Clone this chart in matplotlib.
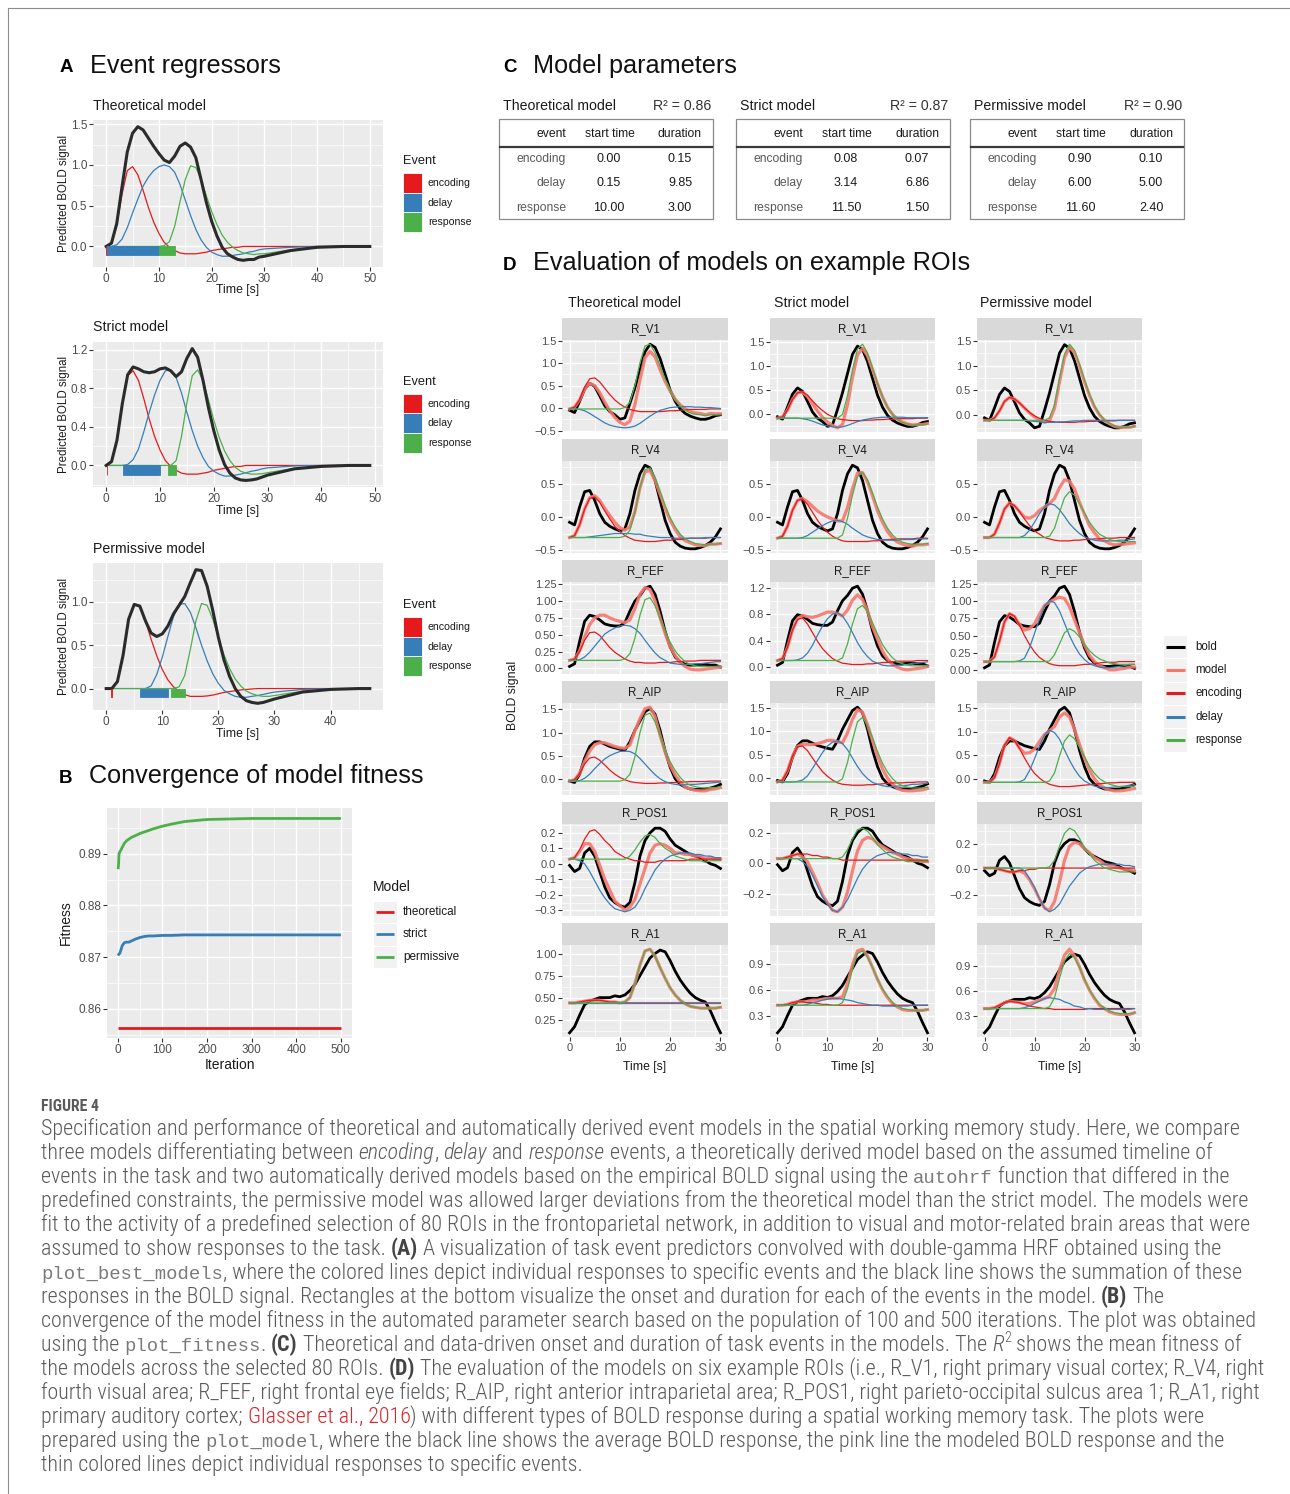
import matplotlib
matplotlib.use('Agg')
import matplotlib.pyplot as plt
from matplotlib import font_manager
from matplotlib.patches import Rectangle

plt.rcParams['font.family'] = ['Liberation Sans', 'DejaVu Sans']

W, H = 1290, 1494

# ---------------------------------------------------------------- event models (panel C, bars in panel A)
event_names = ['encoding', 'delay', 'response']
event_colors = ['#E41A1C', '#377EB8', '#4DAF4A']
model_names = ['Theoretical model', 'Strict model', 'Permissive model']
model_r2 = [0.86, 0.87, 0.90]
start_time = [[0.00, 0.15, 10.00], [0.08, 3.14, 11.50], [0.90, 6.00, 11.60]]
duration = [[0.15, 9.85, 3.00], [0.07, 6.86, 1.50], [0.10, 5.00, 2.40]]

# ---------------------------------------------------------------- panel A: predicted BOLD signal
time_theo = [0, 1, 2, 3, 4, 5, 6, 7, 8, 9, 10, 11, 12, 13, 14, 15, 16, 17, 18, 19, 20,
             21, 22, 23, 24, 25, 26, 27, 28, 29, 30, 35, 40, 45, 50]
time_strict = [0, 1, 2, 3, 4, 5, 6, 7, 8, 9, 10, 11, 12, 13, 14, 15, 16, 17, 18, 19, 20,
               21, 22, 23, 24, 25, 26, 27, 28, 29, 30, 35, 40, 45, 49]
time_perm = [0, 1, 2, 3, 4, 5, 6, 7, 8, 9, 10, 11, 12, 13, 14, 15, 16, 17, 18, 19, 20,
             21, 22, 23, 24, 25, 26, 27, 28, 29, 30, 35, 40, 45, 47]

theo_enc = [0, .04, .26, .64, .93, .98, .88, .69, .48, .30, .16, .05, -.01, -.05, -.08, -.09, -.09, -.09,
            -.08, -.07, -.05, -.04, -.03, -.02, -.01, -.01, 0, 0, 0, 0, 0, 0, 0, 0, 0]
theo_delay = [0, 0, .02, .09, .23, .41, .58, .74, .85, .93, .98, 1.0, .98, .91, .76, .57, .38, .21,
              .08, -.01, -.07, -.10, -.12, -.12, -.11, -.10, -.09, -.07, -.06, -.04, -.03, -.01, 0, 0, 0]
theo_resp = [0, 0, 0, 0, 0, 0, 0, 0, 0, 0, 0, .01, .06, .25, .55, .82, .99, .97, .82, .62, .43, .27,
             .14, .05, -.01, -.05, -.08, -.09, -.10, -.09, -.09, -.04, -.01, 0, 0]
theo_bold = [0, .04, .28, .73, 1.16, 1.39, 1.47, 1.43, 1.33, 1.23, 1.14, 1.06, 1.03, 1.11, 1.23, 1.27,
             1.22, 1.09, .82, .54, .31, .13, -.01, -.09, -.13, -.16, -.17, -.16, -.16, -.13, -.12,
             -.05, -.01, 0, 0]

strict_enc = [0, .04, .26, .64, .93, .98, .88, .69, .48, .30, .16, .05, -.01, -.05, -.08, -.09, -.09, -.09,
              -.08, -.07, -.05, -.04, -.03, -.02, -.01, -.01, 0, 0, 0, 0, 0, 0, 0, 0, 0]
strict_delay = [0, 0, 0, 0, .01, .06, .17, .35, .55, .73, .88, .98, .99, .91, .75, .55, .36, .20, .08,
                -.01, -.06, -.09, -.11, -.11, -.10, -.09, -.075, -.06, -.05, -.035, -.025, -.005, 0, 0, 0]
strict_resp = [0, 0, 0, 0, 0, 0, 0, 0, 0, 0, 0, 0, 0, .05, .30, .65, .93, .99, .88, .68, .47, .29, .15,
               .05, -.02, -.06, -.08, -.09, -.09, -.085, -.075, -.03, -.01, 0, 0]
strict_bold = [0, .04, .26, .64, .94, 1.02, 1.00, .97, .96, .97, 1.00, 1.01, .98, .92, .97, 1.11, 1.21,
               1.12, .88, .60, .36, .16, .01, -.08, -.13, -.15, -.155, -.15, -.14, -.12, -.10, -.035,
               -.01, 0, 0]

perm_enc = [0, 0, .08, .38, .80, .97, .95, .78, .57, .38, .22, .10, .02, -.03, -.07, -.09, -.09, -.09,
            -.085, -.075, -.06, -.045, -.035, -.025, -.015, -.01, -.005, 0, 0, 0, 0, 0, 0, 0, 0]
perm_delay = [0, 0, 0, 0, 0, 0, 0, 0, .03, .16, .36, .60, .83, .97, .98, .88, .70, .50, .32, .17, .06,
              -.02, -.06, -.09, -.10, -.10, -.09, -.08, -.067, -.053, -.04, -.01, 0, 0, 0]
perm_resp = [0, 0, 0, 0, 0, 0, 0, 0, 0, 0, 0, 0, 0, .02, .15, .45, .78, .98, .96, .80, .59, .39, .23,
             .11, .03, -.03, -.06, -.08, -.09, -.09, -.08, -.03, -.01, 0, 0]
perm_bold = [0, 0, .08, .38, .80, .97, .95, .78, .64, .60, .63, .72, .86, .96, 1.06, 1.22, 1.37, 1.36,
             1.18, .90, .59, .33, .14, 0, -.09, -.14, -.16, -.17, -.16, -.14, -.12, -.04, -.01, 0, 0]

# ---------------------------------------------------------------- panel B: fitness per iteration
fit_iter = [1, 2, 3, 5, 8, 10, 15, 20, 25, 30, 40, 50, 60, 70, 80, 100, 120, 150, 175, 200, 250, 300,
            350, 400, 450, 500]
fit_theoretical = [.8564, .8564, .8564, .8564, .8564, .8564, .8564, .8564, .8564, .8564, .8564, .8564,
                   .8564, .8564, .8564, .8564, .8564, .8564, .8564, .8564, .8564, .8564, .8564, .8564,
                   .8564, .8564]
fit_strict = [.8703, .8705, .8706, .8708, .8716, .8722, .8728, .8729, .8729, .8731, .8735, .8738, .8740,
              .8741, .8741, .8742, .8742, .8743, .8743, .8743, .8743, .8743, .8743, .8743, .8743, .8743]
fit_permissive = [.8870, .8880, .8900, .8904, .8908, .8912, .8920, .8925, .8928, .8931, .8935, .8939,
                  .8942, .8945, .8948, .8953, .8957, .8962, .8964, .8966, .8967, .8968, .8968, .8968,
                  .8968, .8968]
fit_models = ['theoretical', 'strict', 'permissive']

# ---------------------------------------------------------------- panel D: model fits on six ROIs
rois = ['R_V1', 'R_V4', 'R_FEF', 'R_AIP', 'R_POS1', 'R_A1']
roi_time = [0, 1, 2, 3, 4, 5, 6, 7, 8, 9, 10, 11, 12, 13, 14, 15, 16, 17, 18, 19, 20, 21, 22, 23, 24,
            25, 26, 27, 28, 29, 30]

# averaged BOLD response, one row per ROI (same data for every model)
bold = [
    [-.05, -.10, .15, .42, .55, .48, .27, .05, -.08, -.15, -.25, -.22, .10, .45, .85, 1.25, 1.42, 1.35,
     1.10, .75, .40, .15, -.02, -.12, -.18, -.22, -.25, -.25, -.22, -.17, -.15],
    [-.08, -.12, .15, .38, .40, .25, .05, -.08, -.14, -.18, -.21, -.18, .05, .40, .65, .78, .74, .55, .25,
     -.05, -.25, -.38, -.44, -.47, -.48, -.48, -.46, -.43, -.38, -.30, -.18],
    [.03, .07, .40, .70, .79, .77, .72, .66, .64, .63, .63, .68, .85, 1.00, 1.08, 1.19, 1.22, 1.10, .85,
     .55, .32, .17, .10, .06, .05, .05, .06, .06, .05, .05, .02],
    [-.05, -.08, .10, .45, .70, .80, .80, .75, .70, .67, .64, .62, .80, 1.05, 1.25, 1.45, 1.52, 1.40, 1.05,
     .60, .25, 0, -.12, -.18, -.22, -.23, -.23, -.22, -.20, -.17, -.12],
    [-.01, -.05, -.03, .07, .10, .05, -.05, -.15, -.22, -.25, -.27, -.28, -.25, -.12, .05, .15, .20, .23,
     .23, .21, .16, .12, .10, .08, .06, .05, .04, .02, 0, -.01, -.03],
    [.10, .17, .30, .42, .46, .48, .50, .50, .50, .52, .51, .53, .58, .65, .75, .85, .95, 1.00, 1.04, 1.02,
     .92, .80, .70, .62, .55, .50, .47, .45, .35, .22, .10],
]

theo_model = [
    [-.02, .02, .18, .43, .55, .50, .34, .13, -.06, -.21, -.32, -.37, -.29, .08, .63, 1.12, 1.26, 1.14, .85,
     .59, .38, .20, .07, -.02, -.07, -.11, -.12, -.15, -.12, -.13, -.13],
    [-.31, -.28, -.12, .12, .29, .32, .25, .13, .02, -.08, -.16, -.20, -.15, .08, .44, .68, .70, .55, .34,
     .13, -.05, -.19, -.30, -.36, -.39, -.42, -.43, -.43, -.41, -.41, -.40],
    [.12, .14, .26, .47, .65, .75, .79, .79, .75, .72, .70, .68, .72, .89, 1.10, 1.20, 1.17, 1.00, .75, .52,
     .32, .19, .09, .03, -.01, -.02, -.02, -.01, 0, .01, .02],
    [-.05, -.02, .12, .38, .60, .74, .78, .78, .74, .70, .67, .66, .73, 1.04, 1.30, 1.52, 1.55, 1.35, .94,
     .58, .29, .08, -.07, -.18, -.22, -.25, -.26, -.26, -.23, -.22, -.19],
    [.03, .04, .08, .13, .13, .08, -.01, -.10, -.17, -.24, -.27, -.30, -.28, -.23, -.13, -.03, .07, .12,
     .13, .12, .10, .07, .07, .06, .06, .05, .05, .03, .04, .03, .03],
    [.44, .44, .45, .46, .47, .47, .47, .46, .45, .45, .44, .45, .50, .66, .87, 1.03, 1.05, .97, .84, .72,
     .61, .53, .47, .43, .40, .39, .38, .38, .38, .38, .39],
]
theo_encoding = [
    [-.02, .02, .19, .47, .65, .67, .58, .44, .30, .18, .09, .02, -.03, -.06, -.08, -.08, -.08, -.08, -.08,
     -.07, -.06, -.06, -.05, -.04, -.03, -.03, -.03, -.03, -.02, -.02, -.02],
    [-.31, -.28, -.12, .12, .28, .30, .22, .09, -.03, -.14, -.22, -.28, -.32, -.35, -.36, -.37, -.37, -.37,
     -.36, -.35, -.35, -.34, -.34, -.33, -.32, -.32, -.32, -.32, -.31, -.31, -.31],
    [.12, .14, .25, .42, .53, .54, .49, .40, .31, .24, .19, .14, .11, .09, .09, .08, .08, .08, .09, .09,
     .09, .10, .10, .11, .11, .11, .12, .12, .12, .12, .12],
    [-.05, -.02, .11, .32, .45, .47, .40, .30, .19, .10, .03, -.02, -.06, -.08, -.09, -.10, -.10, -.10,
     -.09, -.09, -.08, -.08, -.07, -.07, -.06, -.06, -.06, -.06, -.05, -.05, -.05],
    [.03, .04, .09, .16, .21, .22, .19, .15, .12, .08, .06, .04, .03, .02, .02, .01, .01, .01, .02, .02,
     .02, .02, .02, .02, .03, .03, .03, .03, .03, .03, .03],
    [.44, .44, .45, .46, .47, .47, .47, .46, .45, .45, .44, .44, .44, .44, .44, .44, .44, .44, .44, .44,
     .44, .44, .44, .44, .44, .44, .44, .44, .44, .44, .44],
]
theo_delay_fit = [
    [-.02, -.02, -.03, -.06, -.12, -.19, -.26, -.33, -.38, -.41, -.43, -.44, -.43, -.40, -.34, -.26, -.18,
     -.11, -.05, -.02, .01, .02, .03, .03, .03, .02, .02, .01, .01, 0, -.01],
    [-.31, -.31, -.31, -.31, -.30, -.29, -.28, -.27, -.26, -.25, -.25, -.25, -.25, -.26, -.26, -.28, -.29,
     -.30, -.31, -.31, -.31, -.32, -.32, -.32, -.32, -.32, -.32, -.31, -.31, -.31, -.31],
    [.12, .12, .13, .17, .24, .33, .42, .51, .56, .60, .63, .64, .63, .59, .52, .42, .32, .23, .16, .12,
     .08, .07, .06, .06, .06, .07, .07, .08, .09, .10, .10],
    [-.05, -.05, -.04, .01, .10, .22, .33, .43, .50, .55, .59, .60, .59, .54, .44, .32, .20, .09, 0, -.06,
     -.10, -.12, -.13, -.13, -.12, -.12, -.11, -.10, -.09, -.08, -.07],
    [.03, .03, .02, 0, -.05, -.11, -.17, -.22, -.26, -.29, -.30, -.31, -.30, -.28, -.23, -.16, -.10, -.04,
     0, .03, .05, .06, .07, .07, .07, .06, .06, .05, .05, .04, .04],
    [.44, .44, .44, .44, .44, .44, .44, .44, .44, .44, .44, .44, .44, .44, .44, .44, .44, .44, .44, .44,
     .44, .44, .44, .44, .44, .44, .44, .44, .44, .44, .44],
]
theo_response = [
    [-.02, -.02, -.02, -.02, -.02, -.02, -.02, -.02, -.02, -.02, -.02, .01, .13, .50, 1.01, 1.38, 1.42,
     1.23, .94, .64, .39, .20, .05, -.05, -.11, -.14, -.15, -.17, -.15, -.15, -.14],
    [-.31, -.31, -.31, -.31, -.31, -.31, -.31, -.31, -.31, -.31, -.31, -.29, -.20, .07, .44, .71, .74, .60,
     .39, .17, -.01, -.15, -.26, -.33, -.37, -.40, -.41, -.42, -.41, -.41, -.40],
    [.12, .12, .12, .12, .12, .12, .12, .12, .12, .12, .12, .14, .22, .45, .79, 1.02, 1.05, .93, .74, .55,
     .39, .26, .17, .10, .06, .04, .03, .03, .03, .03, .04],
    [-.05, -.05, -.05, -.05, -.05, -.05, -.05, -.05, -.05, -.05, -.05, -.02, .10, .48, 1.00, 1.38, 1.42,
     1.23, .93, .63, .37, .18, .03, -.08, -.14, -.17, -.19, -.20, -.19, -.19, -.17],
    [.03, .03, .03, .03, .03, .03, .03, .03, .03, .03, .03, .03, .05, .09, .14, .18, .19, .17, .13, .10,
     .08, .05, .04, .03, .02, .02, .02, .01, .02, .02, .02],
    [.44, .44, .44, .44, .44, .44, .44, .44, .44, .44, .44, .45, .50, .66, .87, 1.03, 1.05, .97, .84, .72,
     .61, .53, .47, .43, .40, .39, .38, .38, .38, .38, .39],
]

strict_model = [
    [-.08, -.05, .09, .31, .45, .46, .37, .22, .07, -.06, -.16, -.23, -.28, -.21, .20, .77, 1.24, 1.37,
     1.22, .93, .63, .36, .15, 0, -.10, -.16, -.20, -.22, -.21, -.21, -.19],
    [-.32, -.29, -.14, .10, .25, .28, .23, .16, .09, .04, 0, -.03, -.06, -.06, .14, .43, .66, .67, .53, .32,
     .09, -.08, -.22, -.32, -.38, -.41, -.43, -.44, -.42, -.42, -.41],
    [.10, .13, .30, .56, .73, .78, .76, .75, .77, .80, .83, .83, .81, .77, .86, 1.01, 1.09, 1.02, .85, .61,
     .42, .24, .12, .04, 0, -.03, -.04, -.03, -.02, -.01, .01],
    [-.08, -.04, .16, .47, .68, .73, .72, .72, .74, .77, .81, .81, .78, .76, .97, 1.26, 1.47, 1.41, 1.15,
     .80, .47, .20, 0, -.13, -.22, -.26, -.27, -.27, -.26, -.25, -.22],
    [.03, .03, .04, .05, .06, .04, .01, -.06, -.13, -.21, -.26, -.31, -.32, -.29, -.19, -.05, .08, .15, .17,
     .16, .13, .11, .09, .07, .06, .04, .03, .02, .02, .01, .01],
    [.42, .42, .43, .45, .46, .46, .46, .48, .48, .49, .50, .50, .50, .52, .67, .89, 1.05, 1.07, .99, .86,
     .72, .60, .51, .44, .40, .37, .36, .36, .36, .36, .37],
]
strict_encoding = [
    [-.08, -.05, .09, .31, .45, .47, .40, .28, .17, .08, 0, -.05, -.09, -.11, -.12, -.13, -.13, -.13, -.12,
     -.12, -.11, -.11, -.10, -.10, -.09, -.09, -.09, -.09, -.08, -.08, -.08],
    [-.32, -.29, -.14, .10, .25, .27, .19, .07, -.05, -.15, -.23, -.29, -.33, -.36, -.37, -.37, -.37, -.37,
     -.37, -.36, -.36, -.35, -.34, -.34, -.33, -.33, -.33, -.33, -.32, -.32, -.32],
    [.10, .13, .30, .56, .72, .74, .65, .52, .39, .28, .20, .13, .09, .06, .05, .04, .04, .04, .05, .05,
     .06, .07, .07, .08, .09, .09, .09, .09, .10, .10, .10],
    [-.08, -.04, .16, .47, .67, .69, .59, .43, .28, .14, .04, -.04, -.10, -.13, -.14, -.15, -.15, -.15,
     -.14, -.14, -.13, -.12, -.11, -.10, -.10, -.10, -.09, -.09, -.08, -.08, -.08],
    [.03, .03, .04, .05, .06, .06, .06, .05, .05, .04, .04, .03, .03, .02, .02, .02, .02, .02, .02, .02,
     .02, .02, .02, .02, .02, .02, .02, .02, .02, .02, .02],
    [.42, .42, .43, .45, .46, .46, .45, .45, .44, .43, .43, .42, .42, .42, .42, .42, .42, .42, .42, .42,
     .42, .42, .42, .42, .42, .42, .42, .42, .42, .42, .42],
]
strict_delay_fit = [
    [-.08, -.08, -.08, -.08, -.08, -.09, -.11, -.14, -.18, -.22, -.24, -.26, -.27, -.26, -.23, -.19, -.15,
     -.12, -.10, -.08, -.07, -.06, -.06, -.06, -.06, -.06, -.07, -.07, -.07, -.07, -.07],
    [-.32, -.32, -.32, -.32, -.32, -.31, -.28, -.23, -.18, -.13, -.09, -.06, -.05, -.07, -.11, -.17, -.22,
     -.27, -.30, -.32, -.34, -.34, -.35, -.35, -.35, -.34, -.34, -.34, -.33, -.33, -.33],
    [.10, .10, .10, .10, .11, .14, .21, .33, .48, .62, .73, .80, .82, .77, .66, .52, .37, .25, .16, .09,
     .06, .03, .02, .02, .03, .03, .04, .06, .06, .07, .08],
    [-.08, -.08, -.08, -.08, -.07, -.04, .05, .21, .38, .55, .69, .77, .80, .74, .61, .43, .25, .10, -.01,
     -.09, -.13, -.16, -.18, -.18, -.17, -.16, -.15, -.13, -.13, -.12, -.11],
    [.03, .03, .03, .03, .03, .01, -.02, -.08, -.15, -.22, -.27, -.31, -.32, -.29, -.24, -.17, -.10, -.04,
     0, .03, .05, .06, .07, .07, .07, .06, .06, .05, .05, .04, .04],
    [.42, .42, .42, .42, .42, .42, .43, .45, .46, .48, .49, .50, .50, .49, .48, .47, .45, .44, .43, .42,
     .42, .41, .41, .41, .41, .41, .41, .42, .42, .42, .42],
]
strict_response = [
    [-.08, -.08, -.08, -.08, -.08, -.08, -.08, -.08, -.08, -.08, -.08, -.08, -.08, 0, .39, .93, 1.36, 1.46,
     1.28, .97, .65, .37, .15, 0, -.11, -.17, -.20, -.22, -.22, -.22, -.20],
    [-.32, -.32, -.32, -.32, -.32, -.32, -.32, -.32, -.32, -.32, -.32, -.32, -.32, -.27, -.02, .33, .61,
     .67, .56, .36, .15, -.03, -.17, -.27, -.34, -.38, -.40, -.41, -.41, -.41, -.40],
    [.10, .10, .10, .10, .10, .10, .10, .10, .10, .10, .10, .10, .10, .14, .35, .65, .88, .93, .84, .67,
     .50, .34, .23, .14, .08, .05, .03, .02, .02, .02, .03],
    [-.08, -.08, -.08, -.08, -.08, -.08, -.08, -.08, -.08, -.08, -.08, -.08, -.08, -.01, .34, .82, 1.21,
     1.30, 1.14, .87, .57, .32, .13, -.01, -.11, -.16, -.19, -.21, -.21, -.21, -.19],
    [.03, .03, .03, .03, .03, .03, .03, .03, .03, .03, .03, .03, .03, .04, .09, .16, .22, .23, .21, .17,
     .12, .09, .06, .04, .03, .02, .01, .01, .01, .01, .01],
    [.42, .42, .42, .42, .42, .42, .42, .42, .42, .42, .42, .42, .42, .45, .61, .84, 1.02, 1.05, .98, .86,
     .72, .61, .52, .45, .41, .38, .37, .36, .36, .36, .37],
]

perm_model = [
    [-.10, -.10, -.05, .09, .28, .36, .33, .25, .15, .05, -.03, -.09, -.14, -.11, .14, .67, 1.16, 1.37,
     1.26, .99, .68, .40, .17, .01, -.10, -.17, -.22, -.24, -.24, -.24, -.22],
    [-.31, -.31, -.26, -.09, .12, .21, .17, .08, 0, -.02, .02, .10, .15, .20, .28, .44, .56, .54, .42, .22,
     .04, -.13, -.24, -.33, -.36, -.40, -.42, -.41, -.41, -.40, -.39],
    [.12, .12, .19, .42, .70, .82, .78, .66, .58, .60, .67, .81, .94, .99, 1.03, 1.06, 1.04, .92, .73, .54,
     .36, .21, .12, .06, .03, 0, 0, .01, .02, .04, .04],
    [-.08, -.08, .02, .32, .71, .87, .81, .65, .54, .55, .63, .79, .94, 1.02, 1.11, 1.31, 1.40, 1.31, 1.05,
     .73, .43, .18, -.01, -.13, -.20, -.24, -.26, -.26, -.25, -.23, -.21],
    [.01, .01, .01, 0, -.01, -.02, -.02, -.01, -.03, -.08, -.15, -.23, -.30, -.32, -.25, -.10, .07, .18,
     .21, .20, .16, .13, .09, .07, .04, .03, .02, .01, 0, 0, -.01],
    [.39, .39, .40, .43, .46, .48, .47, .46, .45, .45, .47, .49, .51, .54, .63, .85, 1.03, 1.10, 1.02, .89,
     .73, .61, .51, .43, .39, .35, .33, .32, .32, .32, .34],
]
perm_encoding = [
    [-.10, -.10, -.05, .09, .28, .36, .33, .25, .15, .06, -.01, -.06, -.10, -.12, -.13, -.14, -.14, -.14,
     -.14, -.13, -.13, -.12, -.12, -.11, -.11, -.11, -.11, -.10, -.10, -.10, -.10],
    [-.31, -.31, -.26, -.09, .12, .21, .17, .08, -.03, -.13, -.21, -.26, -.31, -.33, -.35, -.36, -.36, -.36,
     -.35, -.35, -.34, -.34, -.33, -.33, -.32, -.32, -.32, -.31, -.31, -.31, -.31],
    [.12, .12, .19, .42, .70, .82, .78, .65, .50, .37, .26, .18, .13, .09, .07, .06, .06, .06, .06, .07,
     .08, .08, .09, .10, .11, .11, .11, .12, .12, .12, .12],
    [-.08, -.08, .02, .32, .71, .87, .81, .64, .44, .26, .11, .01, -.07, -.12, -.15, -.17, -.17, -.17, -.16,
     -.15, -.14, -.13, -.12, -.11, -.10, -.09, -.09, -.08, -.08, -.08, -.08],
    [.01, .01, .01, 0, -.01, -.02, -.02, -.01, -.01, 0, 0, .01, .01, .01, .01, .01, .01, .01, .01, .01,
     .01, .01, .01, .01, .01, .01, .01, .01, .01, .01, .01],
    [.39, .39, .40, .43, .46, .48, .47, .46, .44, .42, .41, .40, .39, .39, .38, .38, .38, .38, .38, .38,
     .38, .39, .39, .39, .39, .39, .39, .39, .39, .39, .39],
]
perm_delay_fit = [
    [-.10, -.10, -.10, -.10, -.10, -.10, -.10, -.10, -.10, -.11, -.12, -.13, -.14, -.14, -.14, -.13, -.13,
     -.12, -.11, -.11, -.10, -.10, -.10, -.10, -.10, -.10, -.10, -.10, -.10, -.10, -.10],
    [-.31, -.31, -.31, -.31, -.31, -.31, -.31, -.31, -.28, -.20, -.08, .05, .15, .20, .18, .11, .01, -.10,
     -.18, -.25, -.30, -.33, -.35, -.36, -.36, -.36, -.36, -.35, -.35, -.34, -.33],
    [.12, .12, .12, .12, .12, .12, .12, .13, .17, .32, .53, .75, .93, 1.01, .98, .86, .68, .50, .35, .23,
     .15, .09, .06, .04, .03, .03, .04, .05, .06, .08, .08],
    [-.08, -.08, -.08, -.08, -.08, -.08, -.08, -.07, -.02, .17, .42, .70, .93, 1.03, .98, .84, .61, .39,
     .20, .05, -.05, -.11, -.16, -.18, -.19, -.19, -.18, -.17, -.16, -.14, -.13],
    [.01, .01, .01, .01, .01, .01, .01, .01, -.01, -.07, -.14, -.23, -.30, -.33, -.31, -.27, -.20, -.13,
     -.08, -.03, 0, .02, .03, .04, .04, .04, .04, .04, .03, .03, .02],
    [.39, .39, .39, .39, .39, .39, .39, .39, .40, .42, .45, .48, .51, .52, .51, .50, .47, .45, .42, .41,
     .39, .39, .38, .38, .38, .38, .38, .38, .38, .38, .39],
]
perm_response = [
    [-.10, -.10, -.10, -.10, -.10, -.10, -.10, -.10, -.10, -.10, -.10, -.10, -.10, -.05, .21, .74, 1.23,
     1.43, 1.31, 1.03, .71, .42, .19, .02, -.09, -.16, -.21, -.24, -.24, -.24, -.22],
    [-.31, -.31, -.31, -.31, -.31, -.31, -.31, -.31, -.31, -.31, -.31, -.31, -.31, -.29, -.17, .07, .29,
     .38, .33, .20, .06, -.08, -.18, -.26, -.30, -.34, -.36, -.37, -.37, -.37, -.37],
    [.12, .12, .12, .12, .12, .12, .12, .12, .12, .12, .12, .12, .12, .13, .22, .38, .54, .60, .56, .48,
     .37, .28, .21, .16, .13, .10, .09, .08, .08, .08, .08],
    [-.08, -.08, -.08, -.08, -.08, -.08, -.08, -.08, -.08, -.08, -.08, -.08, -.08, -.05, .12, .48, .80, .93,
     .85, .67, .46, .26, .11, 0, -.07, -.12, -.15, -.17, -.17, -.17, -.16],
    [.01, .01, .01, .01, .01, .01, .01, .01, .01, .01, .01, .01, .01, .02, .07, .18, .28, .32, .30, .24,
     .17, .12, .07, .04, .01, 0, -.01, -.02, -.02, -.02, -.02],
    [.39, .39, .39, .39, .39, .39, .39, .39, .39, .39, .39, .39, .39, .41, .52, .75, .96, 1.05, 1.00, .88,
     .74, .61, .52, .44, .40, .36, .34, .33, .33, .33, .34],
]

# y axis breaks of every facet (free scales), per model column
theo_yticks = [[-0.5, 0, 0.5, 1, 1.5], [-0.5, 0, 0.5], [0, .25, .5, .75, 1, 1.25], [0, .5, 1, 1.5],
               [-.3, -.2, -.1, 0, .1, .2], [.25, .5, .75, 1]]
strict_yticks = [[0, .5, 1, 1.5], [-0.5, 0, 0.5], [0, .4, .8, 1.2], [0, .5, 1, 1.5], [-.2, 0, .2],
                 [.3, .6, .9]]
perm_yticks = [[0, .5, 1, 1.5], [-0.5, 0, 0.5], [0, .25, .5, .75, 1, 1.25], [0, .5, 1, 1.5], [-.2, 0, .2],
               [.3, .6, .9]]
theo_digits = [1, 1, 2, 1, 1, 2]
strict_digits = [1, 1, 1, 1, 1, 1]
perm_digits = [1, 1, 2, 1, 1, 1]

# ---------------------------------------------------------------- figure helpers
fig = plt.figure(figsize=(W / 100, H / 100), dpi=100)


def px_axes(x0, y0, x1, y1):
    return fig.add_axes([x0 / W, 1 - y1 / H, (x1 - x0) / W, (y1 - y0) / H])


def expand(lo, hi, frac=0.05):
    pad = (hi - lo) * frac
    return lo - pad, hi + pad


def minor_between(ticks, lo, hi):
    step = ticks[1] - ticks[0]
    marks = [ticks[0] - step / 2] + [v + step / 2 for v in ticks]
    return [m for m in marks if lo <= m <= hi]


def fmt(v, digits):
    s = f'{v:.{digits}f}'
    return s.replace('-', '\u2212')


def gg_axes(rect, xlim, ylim, xticks, yticks, digits, size, show_x=True):
    ax = px_axes(*rect)
    ax.set_xlim(*xlim)
    ax.set_ylim(*ylim)
    ax.set_facecolor('#EBEBEB')
    for s in ax.spines.values():
        s.set_visible(False)
    ax.set_xticks(xticks)
    ax.set_xticklabels([str(int(v)) for v in xticks])
    ax.set_xticks(minor_between(xticks, *xlim), minor=True)
    ax.set_yticks(yticks)
    ax.set_yticklabels([fmt(v, digits) for v in yticks])
    ax.set_yticks(minor_between(yticks, *ylim), minor=True)
    ax.grid(which='major', color='white', lw=1.0)
    ax.grid(which='minor', color='white', lw=0.5)
    ax.set_axisbelow(True)
    ax.tick_params(which='major', length=2.6, width=0.8, color='#333333', labelcolor='#4D4D4D',
                   labelsize=size, pad=1.5)
    ax.tick_params(which='minor', length=0)
    if not show_x:
        ax.tick_params(axis='x', which='major', length=0, labelbottom=False)
    return ax


# ---------------------------------------------------------------- panel A
a_rects = [(93, 120, 383, 267), (93, 342, 383, 487), (93, 563, 383, 710)]
a_time = [time_theo, time_strict, time_perm]
a_curves = [[theo_enc, theo_delay, theo_resp], [strict_enc, strict_delay, strict_resp],
            [perm_enc, perm_delay, perm_resp]]
a_bold = [theo_bold, strict_bold, perm_bold]
a_xticks = [[0, 10, 20, 30, 40, 50], [0, 10, 20, 30, 40, 50], [0, 10, 20, 30, 40]]
a_yticks = [[0, .5, 1, 1.5], [0, .4, .8, 1.2], [0, .5, 1]]

for m in range(3):
    t = a_time[m]
    vals = [v for c in a_curves[m] for v in c] + a_bold[m] + [-0.1]
    ax = gg_axes(a_rects[m], expand(t[0], t[-1]), expand(min(vals), max(vals)),
                 a_xticks[m], a_yticks[m], 1, 8.5)
    for c, col in zip(a_curves[m], event_colors):
        ax.plot(t, c, color=col, lw=0.9, zorder=3)
    ax.plot(t, a_bold[m], color='#2B2B2B', lw=2.2, zorder=4)
    for s, d, col in zip(start_time[m], duration[m], event_colors):
        ax.add_patch(Rectangle((s, -0.1), d, 0.1, facecolor=col, edgecolor=col, lw=0.6, zorder=5))

# ---------------------------------------------------------------- panel B
fit_all = fit_theoretical + fit_strict + fit_permissive
axb = gg_axes((107, 808, 352, 1038), expand(fit_iter[0], fit_iter[-1]), expand(min(fit_all), max(fit_all)),
              [0, 100, 200, 300, 400, 500], [.86, .87, .88, .89], 2, 8.5)
for series, col in zip([fit_theoretical, fit_strict, fit_permissive], event_colors):
    axb.plot(fit_iter, series, color=col, lw=2.0, solid_capstyle='butt')

# ---------------------------------------------------------------- panel D
col_x = [(562, 728), (770, 935), (977, 1142)]
d_models = [
    (theo_model, theo_encoding, theo_delay_fit, theo_response, theo_yticks, theo_digits),
    (strict_model, strict_encoding, strict_delay_fit, strict_response, strict_yticks, strict_digits),
    (perm_model, perm_encoding, perm_delay_fit, perm_response, perm_yticks, perm_digits),
]
MODEL_COLOR = '#F8766D'
strip_tops = []
for c, (mod, enc, dly, rsp, yt, dg) in enumerate(d_models):
    x0, x1 = col_x[c]
    for r in range(6):
        top = 318 + 121 * r
        if c == 0:
            strip_tops.append(top)
        vals = bold[r] + mod[r] + enc[r] + dly[r] + rsp[r]
        ax = gg_axes((x0, top + 22, x1, top + 114), expand(roi_time[0], roi_time[-1]),
                     expand(min(vals), max(vals)), [0, 10, 20, 30], yt[r], dg[r], 8, show_x=(r == 5))
        ax.plot(roi_time, bold[r], color='black', lw=2.0, zorder=3)
        ax.plot(roi_time, mod[r], color=MODEL_COLOR, lw=2.3, alpha=0.9, zorder=4)
        for series, col in zip([enc[r], dly[r], rsp[r]], event_colors):
            ax.plot(roi_time, series, color=col, lw=0.9, zorder=5)

# ---------------------------------------------------------------- overlay for text, legends, tables
ov = fig.add_axes([0, 0, 1, 1])
ov.set_xlim(0, W)
ov.set_ylim(H, 0)
ov.axis('off')

ov.plot([8, W], [8, 8], color='#8C8C8C', lw=0.8)
ov.plot([8, 8], [8, H], color='#8C8C8C', lw=0.8)

TXT = '#1A1A1A'


def heading(x, y, letter, title):
    ov.text(x, y, letter, fontsize=13.5, fontweight='bold', color='black', va='baseline')
    ov.text(x + 30, y, title, fontsize=18.2, color='#111111', va='baseline')


heading(60, 72.5, 'A', 'Event regressors')
heading(59, 783, 'B', 'Convergence of model fitness')
heading(503, 72.5, 'C', 'Model parameters')
heading(503, 270, 'D', 'Evaluation of models on example ROIs')

# panel A labels and legends
a_title_y = [110, 330.7, 552.7]
a_xlab_y = [290, 511, 734]
a_legend_y = [161, 381.7, 605]
for m in range(3):
    x0, y0, x1, y1 = a_rects[m]
    ov.text(x0, a_title_y[m], model_names[m], fontsize=10.2, color=TXT, va='baseline')
    ov.text((x0 + x1) / 2, a_xlab_y[m], 'Time [s]', fontsize=8.8, color=TXT, ha='center', va='center')
    ov.text(64, (y0 + y1) / 2, 'Predicted BOLD signal', fontsize=8.3, color=TXT, rotation=90,
            ha='center', va='center')
    ly = a_legend_y[m]
    ov.text(403, ly, 'Event', fontsize=9.2, color=TXT, va='center')
    for i, (name, col) in enumerate(zip(event_names, event_colors)):
        ky = ly + 12 + 19.7 * i
        ov.add_patch(Rectangle((403, ky), 19, 19.7, facecolor=col, edgecolor='white', lw=0.6))
        ov.text(428, ky + 9.85, name, fontsize=7.6, color=TXT, va='center')

# panel B labels and legend
ov.text(230, 1065, 'Iteration', fontsize=10, color=TXT, ha='center', va='center')
ov.text(66, 923, 'Fitness', fontsize=10, color=TXT, rotation=90, ha='center', va='center')
ov.text(373, 887, 'Model', fontsize=10, color=TXT, va='center')
for i, (name, col) in enumerate(zip(fit_models, event_colors)):
    ky = 900.5 + 22.6 * i
    ov.add_patch(Rectangle((373, ky), 23.5, 22.6, facecolor='#F2F2F2', edgecolor='white', lw=0.8))
    ov.plot([376, 394], [ky + 11.3, ky + 11.3], color=col, lw=2.0, solid_capstyle='butt')
    ov.text(403, ky + 11.3, name, fontsize=8.5, color=TXT, va='center')

# panel C tables
table_x = [499, 736, 970]
for m in range(3):
    x0 = table_x[m]
    x1 = x0 + 214
    ov.text(x0 + 4, 109.5, model_names[m], fontsize=10.2, color=TXT, va='baseline')
    ov.text(x1 - 2, 109.5, f'R\u00b2 = {model_r2[m]:.2f}', fontsize=10.2, color='#333333', ha='right',
            va='baseline')
    ov.add_patch(Rectangle((x0, 119), 214, 100, facecolor='white', edgecolor='#8A8A8A', lw=0.9))
    ov.plot([x0 + 1, x1 - 1], [146.5, 146.5], color='#3A3A3A', lw=1.6)
    ov.text(x0 + 67, 134, 'event', fontsize=8.7, color=TXT, ha='right', va='center')
    ov.text(x0 + 111, 134, 'start time', fontsize=8.7, color=TXT, ha='center', va='center')
    ov.text(x0 + 181, 134, 'duration', fontsize=8.7, color=TXT, ha='center', va='center')
    for i, ry in enumerate([159, 183, 208]):
        ov.text(x0 + 67, ry, event_names[i], fontsize=8.7, color='#5A5A5A', ha='right', va='center')
        ov.text(x0 + 110, ry, f'{start_time[m][i]:.2f}', fontsize=9, color=TXT, ha='center', va='center')
        ov.text(x0 + 181, ry, f'{duration[m][i]:.2f}', fontsize=9, color=TXT, ha='center', va='center')

# panel D labels, strips and legend
col_title_x = [568, 774, 980]
for c in range(3):
    x0, x1 = col_x[c]
    ov.text(col_title_x[c], 307, model_names[c], fontsize=10.2, color=TXT, va='baseline')
    ov.text((x0 + x1) / 2, 1067, 'Time [s]', fontsize=8.8, color=TXT, ha='center', va='center')
    for r, top in enumerate(strip_tops):
        ov.add_patch(Rectangle((x0, top), x1 - x0, 22, facecolor='#D9D9D9', edgecolor='none'))
        ov.text((x0 + x1) / 2, top + 11, rois[r], fontsize=8.3, color=TXT, ha='center', va='center')
ov.text(513, 695, 'BOLD signal', fontsize=8.8, color=TXT, rotation=90, ha='center', va='center')

d_legend = ['bold', 'model'] + event_names
d_legend_col = ['black', MODEL_COLOR] + event_colors
for i, (name, col) in enumerate(zip(d_legend, d_legend_col)):
    ky = 635 + 23.3 * i
    ov.add_patch(Rectangle((1163, ky), 24, 23.3, facecolor='#F2F2F2', edgecolor='white', lw=0.8))
    ov.plot([1166, 1185], [ky + 11.65, ky + 11.65], color=col, lw=2.2, solid_capstyle='butt')
    ov.text(1195, ky + 11.65, name, fontsize=8.3, color=TXT, va='center')


# ---------------------------------------------------------------- caption
def have_font(name):
    try:
        font_manager.findfont(font_manager.FontProperties(family=name), fallback_to_default=False)
        return True
    except ValueError:
        return False


cap_font = next((f for f in ['Liberation Sans Narrow', 'Roboto Condensed', 'Open Sans Condensed',
                             'Liberation Sans'] if have_font(f)), 'DejaVu Sans')
mono_font = 'Liberation Mono' if have_font('Liberation Mono') else 'DejaVu Sans Mono'

caption = [
    [('n', 'Specification and performance of theoretical and automatically derived event models in the '
           'spatial working memory study. Here, we compare')],
    [('n', 'three models differentiating between '), ('i', 'encoding'), ('n', ', '), ('i', 'delay'),
     ('n', ' and '), ('i', 'response'),
     ('n', ' events, a theoretically derived model based on the assumed timeline of')],
    [('n', 'events in the task and two automatically derived models based on the empirical BOLD signal '
           'using the '), ('m', 'autohrf'), ('n', ' function that differed in the')],
    [('n', 'predefined constraints, the permissive model was allowed larger deviations from the theoretical '
           'model than the strict model. The models were')],
    [('n', 'fit to the activity of a predefined selection of 80 ROIs in the frontoparietal network, in '
           'addition to visual and motor-related brain areas that were')],
    [('n', 'assumed to show responses to the task. '), ('b', '(A)'),
     ('n', ' A visualization of task event predictors convolved with double-gamma HRF obtained using the')],
    [('m', 'plot_best_models'), ('n', ', where the colored lines depict individual responses to specific '
                                      'events and the black line shows the summation of these')],
    [('n', 'responses in the BOLD signal. Rectangles at the bottom visualize the onset and duration for each '
           'of the events in the model. '), ('b', '(B)'), ('n', ' The')],
    [('n', 'convergence of the model fitness in the automated parameter search based on the population of '
           '100 and 500 iterations. The plot was obtained')],
    [('n', 'using the '), ('m', 'plot_fitness'), ('n', '. '), ('b', '(C)'),
     ('n', ' Theoretical and data-driven onset and duration of task events in the models. The '),
     ('i', 'R'), ('s', '2'), ('n', ' shows the mean fitness of')],
    [('n', 'the models across the selected 80 ROIs. '), ('b', '(D)'),
     ('n', ' The evaluation of the models on six example ROIs (i.e., R_V1, right primary visual cortex; '
           'R_V4, right')],
    [('n', 'fourth visual area; R_FEF, right frontal eye fields; R_AIP, right anterior intraparietal area; '
           'R_POS1, right parieto-occipital sulcus area 1; R_A1, right')],
    [('n', 'primary auditory cortex; '), ('r', 'Glasser et al., 2016'),
     ('n', ') with different types of BOLD response during a spatial working memory task. The plots were')],
    [('n', 'prepared using the '), ('m', 'plot_model'),
     ('n', ', where the black line shows the average BOLD response, the pink line the modeled BOLD '
           'response and the')],
    [('n', 'thin colored lines depict individual responses to specific events.')],
]

renderer = fig.canvas.get_renderer()


def run_props(style, size):
    props = dict(fontsize=size, family=[cap_font, 'DejaVu Sans'], color='#5A5A5A', fontweight='light',
                 va='baseline')
    if style == 'i':
        props['style'] = 'italic'
    elif style == 'b':
        props['fontweight'] = 'bold'
        props['color'] = '#444444'
    elif style == 'm':
        props['family'] = [mono_font, 'DejaVu Sans Mono']
        props['fontweight'] = 'normal'
        props['fontsize'] = size * 0.86
        props['color'] = '#7A7A7A'
    elif style == 'r':
        props['color'] = '#D9252B'
    elif style == 's':
        props['fontsize'] = size * 0.65
    return props


def width_of(s, props):
    t = ov.text(0, 0, s, **props)
    w = t.get_window_extent(renderer).width
    t.remove()
    return w


# font size chosen so the first line spans the text column
probe = run_props('n', 10)
first_w = width_of(caption[0][0][1], probe)
cap_size = 10 * 1198 / first_w
space_w = width_of('a a', run_props('n', cap_size)) - width_of('aa', run_props('n', cap_size))

ov.text(41, 1111, 'FIGURE 4', fontsize=cap_size * 0.72, fontweight='bold', color='#5A5A5A',
        family=[cap_font, 'DejaVu Sans'], va='baseline')

for i, line in enumerate(caption):
    y = 1135 + 24 * i
    x = 41
    for style, s in line:
        props = run_props(style, cap_size)
        lead = len(s) - len(s.lstrip(' '))
        trail = len(s) - len(s.rstrip(' '))
        x += lead * space_w
        body = s.strip(' ')
        yy = y - cap_size * 0.55 if style == 's' else y
        ov.text(x + (1 if style == 's' else 0), yy, body, **props)
        x += width_of(body, props) + trail * space_w + (1 if style == 's' else 0)

fig.savefig('out.png', dpi=100)
